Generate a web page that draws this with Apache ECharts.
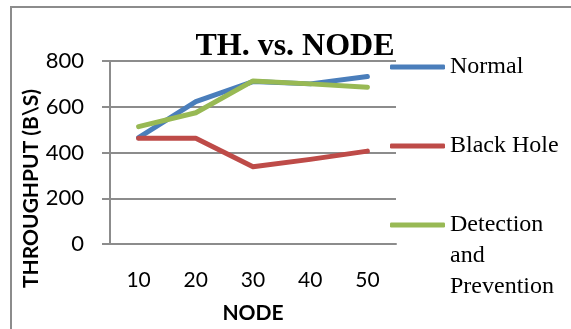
<!DOCTYPE html>
<html><head><meta charset="utf-8">
<script src="https://cdn.jsdelivr.net/npm/echarts@6/dist/echarts.min.js"></script>
<style>html,body{margin:0;padding:0;background:#fff}#c{width:571px;height:329px}</style>
</head><body><div id="c"></div>
<script>
const categories = ['10','20','30','40','50'];
const normal = [465, 622, 710, 700, 732];
const blackHole = [462, 462, 338, 370, 406];
const detection = [513, 574, 713, 700, 685];
const seriesNames = ['Normal', 'Black Hole', 'Detection and Prevention'];
const colors = ['#4a7ebb', '#be4b48', '#98b954'];

const chart = echarts.init(document.getElementById('c'), null, {renderer: 'canvas'});
const serif = '"Liberation Serif", "Times New Roman", serif';
const sans = 'Lato, "Noto Sans", sans-serif';
const legendText = {fontFamily: serif, fontSize: 24, color: '#000', lineHeight: 31};
function mkLegend(name, top) {
  return {
    data: [name],
    orient: 'vertical', left: 390, top: top, padding: 0,
    icon: 'roundRect', itemWidth: 55, itemHeight: 5, itemGap: 0,
    textStyle: legendText,
    formatter: n => n === seriesNames[2] ? '\n\nDetection\nand\nPrevention' : n
  };
}
chart.setOption({
  animation: false,
  title: {
    text: 'TH. vs. NODE', left: 295, top: 31, textAlign: 'center', padding: 0,
    textStyle: {fontFamily: serif, fontSize: 32, fontWeight: 'bold', color: '#000'}
  },
  legend: [
    mkLegend(seriesNames[0], 51.5),
    mkLegend(seriesNames[1], 130.5),
    mkLegend(seriesNames[2], 147.5)
  ],
  graphic: [{
    type: 'rect', shape: {x: 11, y: 7, width: 700, height: 500},
    style: {fill: 'none', stroke: '#8c8c8c', lineWidth: 2}, silent: true
  }],
  grid: {left: 110, right: 175, top: 61, bottom: 85},
  xAxis: {
    type: 'category', data: categories, boundaryGap: true,
    name: 'NODE', nameLocation: 'middle', nameGap: 59,
    nameTextStyle: {fontFamily: sans, fontSize: 21, fontWeight: 'bold', color: '#000'},
    axisLine: {lineStyle: {color: '#8c8c8c', width: 2}},
    axisTick: {show: false},
    axisLabel: {fontFamily: sans, fontSize: 21, color: '#000', margin: 26}
  },
  yAxis: {
    type: 'value', min: 0, max: 800, interval: 200,
    name: 'THROUGHPUT (B\\S)', nameLocation: 'middle', nameGap: 68, nameMoveOverlap: false,
    nameTextStyle: {fontFamily: sans, fontSize: 21, fontWeight: 'bold', color: '#000', padding: [0, 72, 0, 0]},
    axisLine: {show: true, lineStyle: {color: '#8c8c8c', width: 2}},
    axisTick: {show: true, length: 8, lineStyle: {color: '#8c8c8c', width: 2}},
    splitLine: {lineStyle: {color: '#8c8c8c', width: 2}},
    axisLabel: {fontFamily: sans, fontSize: 22, color: '#000', margin: 26}
  },
  series: [
    {name: seriesNames[0], type: 'line', data: normal, showSymbol: false, symbol: 'none',
     lineStyle: {color: colors[0], width: 5, cap: 'round', join: 'round'}, itemStyle: {color: colors[0]}},
    {name: seriesNames[1], type: 'line', data: blackHole, showSymbol: false, symbol: 'none',
     lineStyle: {color: colors[1], width: 5, cap: 'round', join: 'round'}, itemStyle: {color: colors[1]}},
    {name: seriesNames[2], type: 'line', data: detection, showSymbol: false, symbol: 'none',
     lineStyle: {color: colors[2], width: 5, cap: 'round', join: 'round'}, itemStyle: {color: colors[2]}}
  ]
});
</script></body></html>
